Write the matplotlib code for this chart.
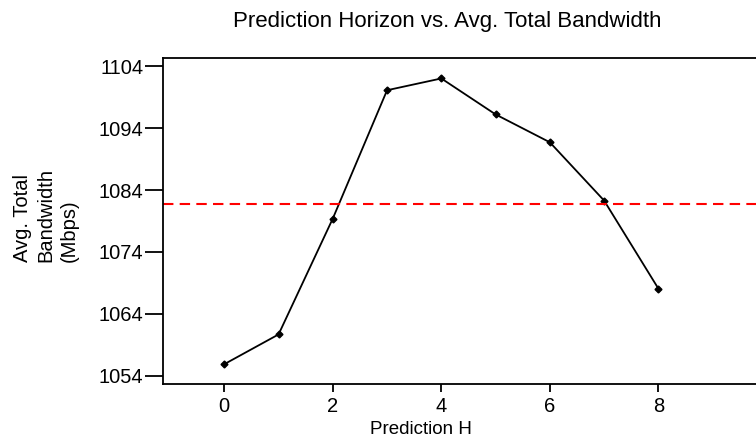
import matplotlib.pyplot as plt

plt.rcParams['font.family'] = ['Liberation Sans', 'DejaVu Sans']

horizon = [0, 1, 2, 3, 4, 5, 6, 7, 8]
bandwidth = [1055.9, 1060.7, 1079.4, 1100.1, 1102.0, 1096.2, 1091.7, 1082.3, 1068.1]
baseline = 1081.7
yticks = [1054, 1064, 1074, 1084, 1094, 1104]
xticks = [0, 2, 4, 6, 8]

fig = plt.figure(figsize=(7.56, 4.43), dpi=100)
ax = fig.add_axes([163 / 756, 1 - 384 / 443, 1 - 163 / 756, 326 / 443])

ax.plot(horizon, bandwidth, color='black', lw=1.3, marker='D', ms=3.5)
ax.axhline(baseline, color='red', lw=1.5, ls=(0, (5, 3)))

ax.set_xlim(-1.13, 9.8)
ax.set_ylim(1052.7, 1105.3)
ax.set_xticks(xticks)
ax.set_yticks(yticks)
ax.spines['right'].set_visible(False)
for s in ax.spines.values():
    s.set_linewidth(1.3)
ax.tick_params(direction='out', width=1.3, labelsize=14.5)
ax.tick_params(axis='y', length=13, pad=1)
ax.tick_params(axis='x', length=6, pad=3)

fig.text(447 / 756, 1 - 22 / 443, "Prediction Horizon vs. Avg. Total Bandwidth",
         ha='center', va='center', fontsize=16)
fig.text(421 / 756, 1 - 430 / 443, "Prediction H", ha='center', va='center', fontsize=13.5)
fig.text(46 / 756, 1 - 215 / 443, "Avg. Total\nBandwidth\n(Mbps)", ha='center', va='center',
         rotation=90, fontsize=14.5, linespacing=1.3, multialignment='left')

fig.savefig('out.png', dpi=100)
